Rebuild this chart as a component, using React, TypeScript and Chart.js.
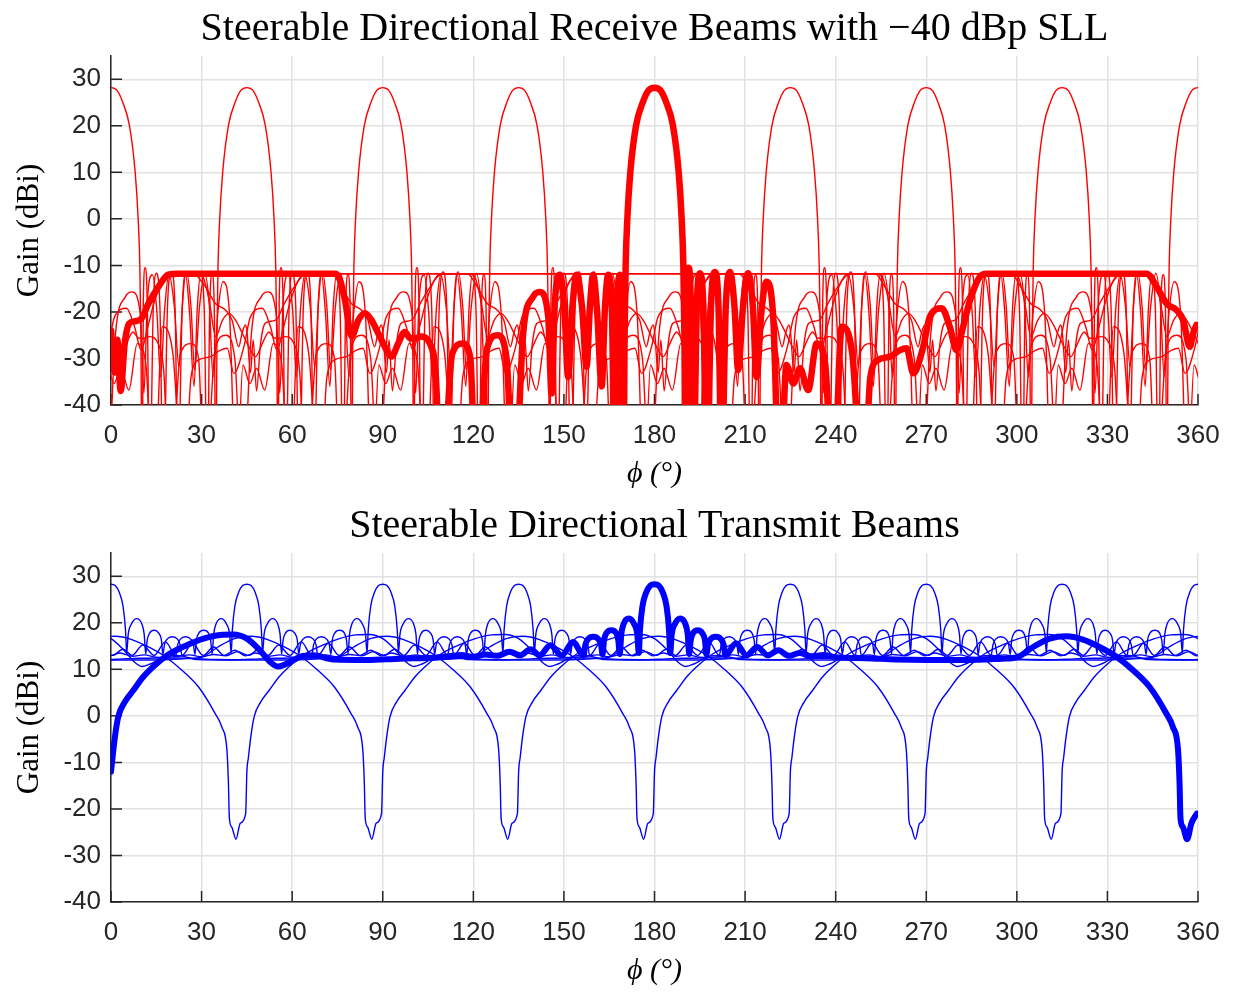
import React, { useEffect, useRef } from "react";
import { Chart, registerables } from "chart.js";

Chart.register(...registerables);

// Steering angles of the thin beams (0 and 360 are the same beam)
const STEER_ANGLES = [0, 45, 90, 135, 225, 270, 315];
// Steering angle of the highlighted (thick) beam
const MAIN_STEER = 180;

// Receive beam steered at 180 deg
const RX_ANGLE = [
  0, 1.2, 2.1, 3.2, 4.5, 6.0, 8.0, 10.0, 12.4, 15.7, 19.0, 22, 74.0, 75.5, 77.5, 79.7,
  81.9, 84.1, 86.3, 88.5, 90.7, 92.9, 95.1, 97.3, 99.0, 100.7, 102.6, 105.6, 107.5, 109.5,
  113, 116.5, 119, 121, 124.5, 128, 131, 133.5, 136.5, 139.8, 142, 144.8, 145.9, 147,
  148.7, 150.2, 151.4, 152.8, 154.2, 156, 157.5, 158.6, 159.7, 161, 162.5, 163.6, 164.7,
  165.9, 166.9, 167.7, 168.5, 169.2, 169.7, 170.1, 170.45, 171.0, 172.0, 173.9, 176.15,
  178, 180, 182, 183.85, 186.1, 188, 189, 189.55, 189.9, 190.3, 190.7, 191.3, 192,
  192.8, 194, 195, 196.2, 197.3, 198.7, 200, 201.2,
  202.2, 203.6, 205, 206.5, 207.7, 209.3, 211, 212.6, 213.8, 215.4, 217.1, 219.3, 221.5,
  223.7, 226, 228.2, 230.9, 233.7, 236.5, 239.2, 242, 245.5, 249.1, 251.5, 254.1, 258,
  261.3, 263.5, 265.7, 269, 271.2, 275.1, 277.8, 280, 282.2, 284.5, 287.8, 290, 343,
  346.3, 349.6, 352.9, 355.1, 357.3, 358.4, 359.5,
];
const RX_GAIN = [
  -24, -33, -26, -37, -27, -22.5, -22, -21.5, -18.2, -14.6, -12.0, -11.8, -11.8, -12.5, -17.5, -25.3,
  -21.8, -20.3, -21.8, -24.6, -27.5, -29.6, -26.8, -24.3, -25.6, -25.7, -25.3, -26.8, -33, -60,
  -29, -26.8, -30, -60, -28, -25, -30, -60, -24.6, -16.7, -15.7, -21, -37.5, -18,
  -12, -20, -34, -19, -12, -19, -31.8, -19, -12, -20, -36, -19, -12,
  -20, -60, -19, -12, -19, -60, -25, -10, 0, 10.1, 20.1, 25.1,
  27.6, 28.2, 27.6, 25.1, 20.1, 10.1, 0, -10, -25, -60, -18, -10.5, -18,
  -60, -19, -11.7, -19, -60, -19, -11.4, -19,
  -55, -19, -11.4, -19, -32.5, -19, -11.7, -19, -34, -20, -13.5, -21, -60,
  -31.4, -35.4, -32.1, -36.8, -26.8, -31, -60, -23.2, -29, -60, -34, -30.3, -29.6,
  -28.2, -27.8, -33.2, -27.5, -21, -19.2, -23.2, -28.2, -23.2, -17.5, -12.4, -11.8, -11.8,
  -14.6, -18.2, -19.6, -21.8, -27.5, -24.6, -22.8,
];

// Transmit beam steered at 180 deg
const TX_ANGLE = [
  0, 0.5, 1.3, 2.4, 4.6, 7.4, 10.7, 15.1, 19.5, 25.1, 30.6, 36.1, 40.5, 45, 49.3, 52.7,
  55.4, 58.2, 62.6, 67, 73.6, 84.7, 95.7, 106.7, 112, 116, 120, 124, 128, 132, 135.5, 139,
  142, 145.5, 149.3, 153, 156.5, 157.1, 158.0, 159.7, 161.4, 162.3, 162.8, 163.3, 164.1,
  165.7, 167.3, 168.0, 168.5, 169.0, 169.8, 171.5, 173.2, 174.3, 174.8, 175.2, 176.0,
  177.3, 178.6, 180, 181.4, 182.7, 184.0, 184.8, 185.2, 185.7, 186.8, 188.5, 190.2, 191.0,
  191.5, 192.0, 192.8, 194.3, 195.8, 196.7, 197.2, 197.7, 198.6, 200.3, 202.0, 202.9,
  203.5, 207.0, 210.5, 214, 217.5, 221, 224.5, 228, 232, 236, 240, 250, 260, 270, 283,
  295, 300, 305.4, 310.9, 316.4, 321.9, 327.4, 333, 338.5, 344, 349.5, 351.7, 353.4,
  353.9, 354.2, 355, 356.4, 357.8, 359.6,
];
const TX_GAIN = [
  -12, -9.0, -4.5, -0.2, 3.0, 5.5, 8.4, 11.2, 13.4, 15.2, 16.6, 17.4, 17.5, 16.6, 14.1, 11.6,
  10.6, 11.2, 12.7, 13.0, 12.1, 12.0, 12.3, 12.5, 12.8, 13.1, 12.7, 13.2, 12.9, 13.8, 13.0, 14.3,
  13.0, 15.2, 13.0, 15.9, 13.0, 15.3, 16.5, 17.0, 16.5, 15.3, 13.2, 16.3, 17.8,
  18.4, 17.8, 16.3, 13.3, 17.5, 19.8, 20.9, 19.8, 17.5, 13.5, 18.5, 23.5,
  26.6, 28.0, 28.3, 28.0, 26.6, 23.5, 18.5, 13.5, 17.5, 19.8, 20.9, 19.8, 17.5,
  13.3, 16.3, 17.8, 18.4, 17.8, 16.3, 13.2, 15.3, 16.5, 17.0, 16.5, 15.3,
  13.0, 15.6, 13.0, 14.8, 13.0, 14.1, 12.9, 13.5, 12.8, 13.1, 12.6, 12.4, 12.1, 12.0, 12.0,
  12.3, 12.6, 14.8, 16.6, 17.1, 16.4, 14.8, 12.7, 9.8, 6.2, 0.5, -2.4, -7.4,
  -14.6, -22, -23.9, -26.5, -23.1, -21,
];

const X_TICKS = [0, 30, 60, 90, 120, 150, 180, 210, 240, 270, 300, 330, 360];
const Y_TICKS = [-40, -30, -20, -10, 0, 10, 20, 30];

const RX_TITLE = "Steerable Directional Receive Beams with \u221240 dBp SLL";
const TX_TITLE = "Steerable Directional Transmit Beams";
const X_LABEL = "\u03D5 (\u00B0)";
const Y_LABEL = "Gain (dBi)";

const AXIS_COLOR = "#262626";
const GRID_COLOR = "#e1e1e1";
const SERIF = "'Liberation Serif', 'DejaVu Serif', serif";
const SANS = "'Liberation Sans', Arial, sans-serif";

// Rotate the measured 180-deg beam to another steering angle (wrapping copies)
function rotated(angles: number[], gains: number[], steer: number, wrap: boolean) {
  const shift = steer - MAIN_STEER;
  const pts: { x: number; y: number }[] = [];
  const copies = wrap ? [-360, 0, 360] : [0];
  for (const k of copies) {
    for (let i = 0; i < angles.length; i++) {
      const x = angles[i] + shift + k;
      if (x >= -20 && x <= 380) pts.push({ x, y: gains[i] });
    }
  }
  return pts;
}

const innerTicks = {
  id: "innerTicks",
  beforeDatasetsDraw(chart: any) {
    const { ctx, chartArea, scales } = chart;
    ctx.save();
    ctx.strokeStyle = AXIS_COLOR;
    ctx.lineWidth = 1.5;
    ctx.beginPath();
    for (const v of X_TICKS) {
      const px = scales.x.getPixelForValue(v);
      ctx.moveTo(px, chartArea.bottom);
      ctx.lineTo(px, chartArea.bottom - 11);
    }
    for (const v of Y_TICKS) {
      const py = scales.y.getPixelForValue(v);
      ctx.moveTo(chartArea.left, py);
      ctx.lineTo(chartArea.left + 11, py);
    }
    ctx.stroke();
    ctx.restore();
  },
};

function makeConfig(title: string, angles: number[], gains: number[], color: string, thick: number): any {
  const datasets: any[] = [
    {
      data: rotated(angles, gains, MAIN_STEER, false),
      borderColor: color,
      borderWidth: thick,
      clip: 0,
    },
  ];
  for (const s of STEER_ANGLES) {
    datasets.push({
      data: rotated(angles, gains, s, true),
      borderColor: color,
      borderWidth: 1.4,
      clip: 0,
    });
  }
  return {
    type: "line",
    data: { datasets },
    options: {
      animation: false,
      responsive: false,
      devicePixelRatio: 1,
      events: [],
      elements: {
        point: { radius: 0 },
        line: { cubicInterpolationMode: "monotone", borderJoinStyle: "round", borderCapStyle: "round", fill: false },
      },
      layout: { padding: { left: 0, right: 42, top: 0, bottom: 0 } },
      plugins: {
        legend: { display: false },
        tooltip: { enabled: false },
        title: {
          display: true,
          text: title,
          fullSize: false,
          color: "#000",
          font: { family: SERIF, size: 40, weight: "normal", lineHeight: 1.2 },
          padding: { top: 5, bottom: 3 },
        },
      },
      scales: {
        x: {
          type: "linear",
          min: 0,
          max: 360,
          afterBuildTicks: (s: any) => {
            s.ticks = X_TICKS.map((v) => ({ value: v }));
          },
          afterFit: (s: any) => {
            s.height = 92;
          },
          ticks: { color: AXIS_COLOR, font: { family: SANS, size: 26 }, padding: 15, maxRotation: 0, autoSkip: false },
          grid: { color: GRID_COLOR, lineWidth: 1.5, drawTicks: false },
          border: { display: true, color: AXIS_COLOR, width: 1.5 },
          title: {
            display: true,
            text: X_LABEL,
            color: "#000",
            font: { family: SERIF, size: 30, style: "italic" },
            padding: { top: 0, bottom: 5 },
          },
        },
        y: {
          type: "linear",
          min: -40,
          max: 35,
          afterBuildTicks: (s: any) => {
            s.ticks = Y_TICKS.map((v) => ({ value: v }));
          },
          afterFit: (s: any) => {
            s.width = 111;
          },
          ticks: { color: AXIS_COLOR, font: { family: SANS, size: 26 }, padding: 10, autoSkip: false },
          grid: { color: GRID_COLOR, lineWidth: 1.5, drawTicks: false },
          border: { display: true, color: AXIS_COLOR, width: 1.5 },
          title: {
            display: true,
            text: Y_LABEL,
            color: "#000",
            font: { family: SERIF, size: 31 },
            padding: { top: 11, bottom: 0 },
          },
        },
      },
    },
    plugins: [innerTicks],
  };
}

export default function App() {
  const topRef = useRef<HTMLCanvasElement>(null);
  const botRef = useRef<HTMLCanvasElement>(null);

  useEffect(() => {
    const c1 = new Chart(topRef.current as HTMLCanvasElement, makeConfig(RX_TITLE, RX_ANGLE, RX_GAIN, "#ff0000", 6.5));
    const c2 = new Chart(botRef.current as HTMLCanvasElement, makeConfig(TX_TITLE, TX_ANGLE, TX_GAIN, "#0000ff", 6));
    return () => {
      c1.destroy();
      c2.destroy();
    };
  }, []);

  return (
    <div style={{ position: "absolute", left: 0, top: 0, width: 1240, height: 994, background: "#fff" }}>
      <canvas ref={topRef} width={1240} height={497} style={{ position: "absolute", left: 0, top: 0, width: 1240, height: 497 }} />
      <canvas ref={botRef} width={1240} height={497} style={{ position: "absolute", left: 0, top: 497, width: 1240, height: 497 }} />
    </div>
  );
}
